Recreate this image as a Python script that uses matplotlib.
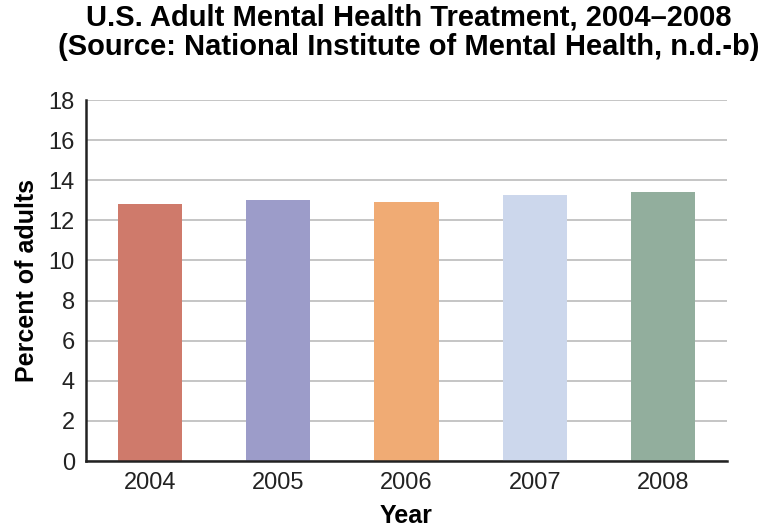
import matplotlib
matplotlib.use("Agg")
import matplotlib.pyplot as plt

years = ["2004", "2005", "2006", "2007", "2008"]
percent = [12.8, 13.0, 12.9, 13.25, 13.4]
colors = ["#CF7A6B", "#9C9CC9", "#F0AB74", "#CCD7EC", "#92AE9D"]
yticks = [0, 2, 4, 6, 8, 10, 12, 14, 16, 18]

plt.rcParams['font.family'] = ['Liberation Sans', 'DejaVu Sans']

fig = plt.figure(figsize=(7.61, 5.31), dpi=100)
ax = fig.add_axes([86/761, 70/531, (727-86)/761, (461-100)/531])

x = range(len(years))
ax.bar(x, percent, width=0.5, color=colors, zorder=3)
ax.set_xlim(-0.5, len(years) - 0.5)
ax.set_ylim(0, 18)
ax.set_yticks(yticks)
ax.set_xticks(list(x))
ax.set_xticklabels(years)
ax.tick_params(axis='both', length=0, labelsize=17, colors='#222222')
ax.tick_params(axis='x', pad=8)
ax.tick_params(axis='y', pad=8)
ax.yaxis.grid(True, color='#BBBBBB', linewidth=1.2, zorder=0)
ax.set_axisbelow(True)
for s in ['top', 'right']:
    ax.spines[s].set_visible(False)
for s in ['left', 'bottom']:
    ax.spines[s].set_linewidth(1.8)
    ax.spines[s].set_color('#222222')
    ax.spines[s].set_zorder(4)

ax.set_xlabel("Year", fontsize=18, fontweight='bold', labelpad=7)
ax.set_ylabel("Percent of adults", fontsize=18, fontweight='bold', labelpad=7)
fig.text(0.537, 0.993, "U.S. Adult Mental Health Treatment, 2004\u20132008\n(Source: National Institute of Mental Health, n.d.-b)",
         fontsize=21, fontweight='bold', ha='center', va='top', linespacing=1.05)

fig.savefig("out.png", dpi=100)
